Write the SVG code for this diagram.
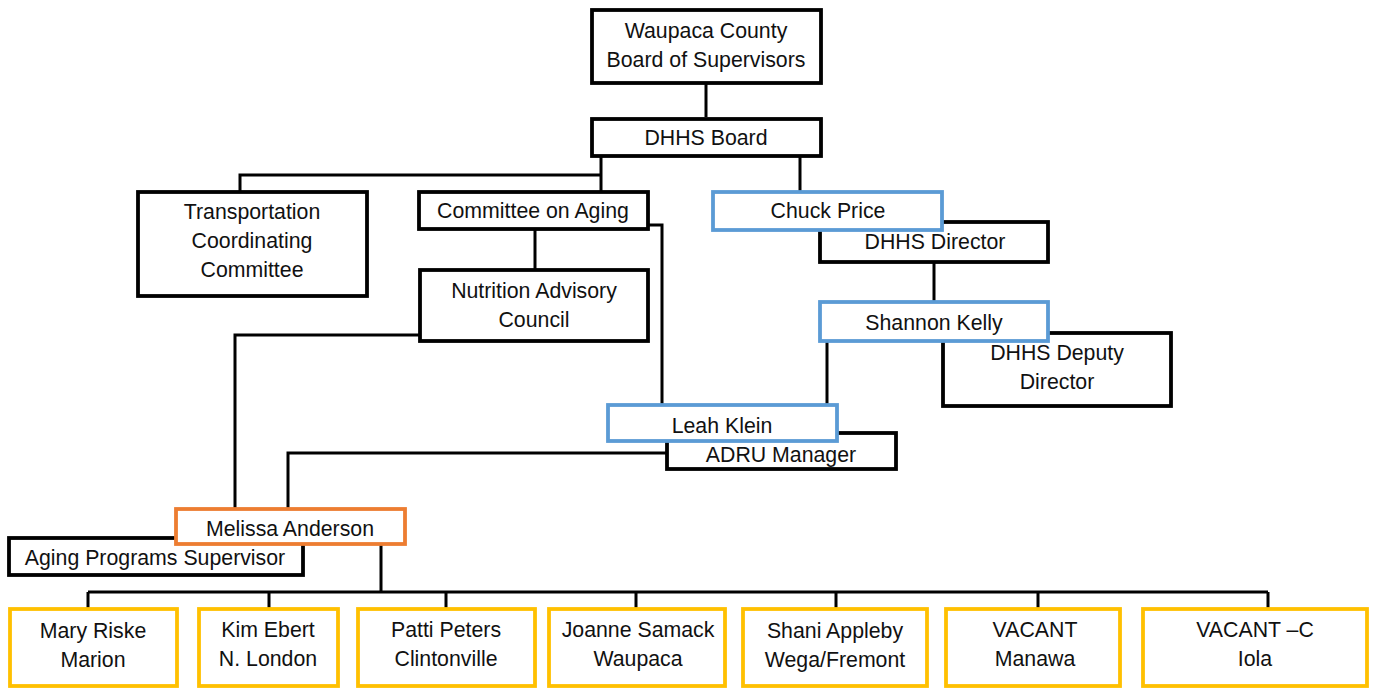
<svg xmlns="http://www.w3.org/2000/svg" width="1373" height="688" viewBox="0 0 1373 688">
<style>
.bk{fill:#fff;stroke:#000;stroke-width:3.8}
.bl{fill:#fff;stroke:#5B9BD5;stroke-width:3.8}
.or{fill:#fff;stroke:#ED7D31;stroke-width:3.8}
.ye{fill:#fff;stroke:#FFC000;stroke-width:3.8}
text{font-family:"Liberation Sans",Arial,sans-serif;font-size:21.3px;fill:#111;text-anchor:middle}
.cn{fill:none;stroke:#000;stroke-width:3}
</style>
<rect width="1373" height="688" fill="#fff"/>
<g id="connectors">
<path class="cn" d="M706,83V117"/>
<path class="cn" d="M601,157V191M601,175H240V191"/>
<path class="cn" d="M800,157V192"/>
<path class="cn" d="M535,229V270"/>
<path class="cn" d="M647,225H662V405"/>
<path class="cn" d="M420,335H235V508"/>
<path class="cn" d="M934,262V302"/>
<path class="cn" d="M827,342V405"/>
<path class="cn" d="M667,453H288V508"/>
<path class="cn" d="M381,544V592M88,592H1268M88,592V608M269,592V608M446,592V608M636,592V608M836,592V608M1038,592V608M1268,592V608"/>
</g>
<g id="board-supervisors"><rect class="bk" x="592" y="10" width="229" height="73"/><text x="706" y="38">Waupaca County</text><text x="706" y="67">Board of Supervisors</text></g>
<g id="dhhs-board"><rect class="bk" x="592" y="119" width="229" height="37"/><text x="706" y="145">DHHS Board</text></g>
<g id="transportation"><rect class="bk" x="138" y="192" width="229" height="104"/><text x="252" y="219">Transportation</text><text x="252" y="248">Coordinating</text><text x="252" y="277">Committee</text></g>
<g id="committee-aging"><rect class="bk" x="419" y="192" width="229" height="37"/><text x="533" y="218">Committee on Aging</text></g>
<g id="nutrition"><rect class="bk" x="420" y="270" width="228" height="71"/><text x="534" y="298">Nutrition Advisory</text><text x="534" y="327">Council</text></g>
<g id="dhhs-director"><rect class="bk" x="820" y="222" width="228" height="40"/><text x="935" y="249">DHHS Director</text></g>
<g id="chuck-price"><rect class="bl" x="713" y="192" width="229" height="38"/><text x="828" y="218">Chuck Price</text></g>
<g id="deputy-director"><rect class="bk" x="943" y="333" width="228" height="73"/><text x="1057" y="360">DHHS Deputy</text><text x="1057" y="389">Director</text></g>
<g id="shannon-kelly"><rect class="bl" x="820" y="302" width="228" height="39"/><text x="934" y="330">Shannon Kelly</text></g>
<g id="adru-manager"><rect class="bk" x="667" y="433" width="229" height="36"/><text x="781" y="462">ADRU Manager</text></g>
<g id="leah-klein"><rect class="bl" x="608" y="405" width="229" height="36"/><text x="722" y="433">Leah Klein</text></g>
<g id="aging-supervisor"><rect class="bk" x="9" y="538" width="294" height="37"/><text x="155" y="565">Aging Programs Supervisor</text></g>
<g id="melissa-anderson"><rect class="or" x="176" y="509" width="229" height="35"/><text x="290" y="536">Melissa Anderson</text></g>
<g id="mary-riske"><rect class="ye" x="10" y="609" width="167" height="77"/><text x="93" y="638">Mary Riske</text><text x="93" y="667">Marion</text></g>
<g id="kim-ebert"><rect class="ye" x="199" y="609" width="139" height="77"/><text x="268" y="637">Kim Ebert</text><text x="268" y="666">N. London</text></g>
<g id="patti-peters"><rect class="ye" x="358" y="609" width="177" height="77"/><text x="446" y="637">Patti Peters</text><text x="446" y="666">Clintonville</text></g>
<g id="joanne-samack"><rect class="ye" x="549" y="609" width="176" height="77"/><text x="638" y="637">Joanne Samack</text><text x="638" y="666">Waupaca</text></g>
<g id="shani-appleby"><rect class="ye" x="743" y="609" width="184" height="77"/><text x="835" y="638">Shani Appleby</text><text x="835" y="667">Wega/Fremont</text></g>
<g id="vacant-manawa"><rect class="ye" x="946" y="609" width="174" height="77"/><text x="1035" y="637">VACANT</text><text x="1035" y="666">Manawa</text></g>
<g id="vacant-iola"><rect class="ye" x="1143" y="609" width="224" height="77"/><text x="1255" y="637">VACANT –C</text><text x="1255" y="666">Iola</text></g>
</svg>
